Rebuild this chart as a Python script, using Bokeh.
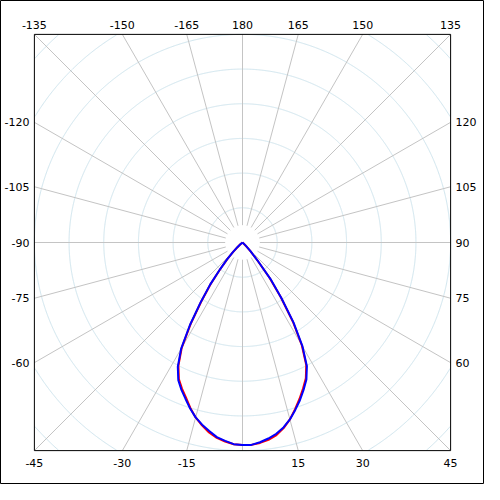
import numpy as np
from bokeh.plotting import figure
from bokeh.models import Range1d
from bokeh.core.properties import value
from bokeh.embed import file_html
from bokeh.resources import INLINE

# ---- data (luminous intensity, arbitrary cd units) ----
angles = [-55, -52.5, -50, -47.5, -45, -42.5, -40, -37.5, -35, -32.5, -30, -27.5,
          -25, -22.5, -20, -17.5, -15, -12.5, -10, -7.5, -5, -2.5, 0,
          2.5, 5, 7.5, 10, 12.5, 15, 17.5, 20, 22.5, 25, 27.5, 30, 32.5, 35,
          37.5, 40, 42.5, 45, 47.5, 50, 52.5, 55]
blue_values = [0, 1, 4, 10, 20, 33, 50, 77, 105, 141, 177, 202,
               219, 230, 240, 251, 261, 269, 276, 283, 287, 291, 292,
               292, 289, 285, 280, 273, 264, 253, 242, 230, 218, 201, 173, 137, 98,
               66, 33, 17, 7, 3, 0, 0, 0]
red_values = [0, 1, 4, 9, 19, 32, 49, 75, 103, 139, 175, 200,
              217, 228, 238, 250, 261, 270, 278, 284, 288, 291, 292,
              292, 290, 287, 282, 274, 264, 252, 240, 228, 216, 199, 171, 135, 96,
              64, 32, 16, 6, 2, 0, 0, 0]
tick_angles = list(range(-165, 181, 15))
tick_labels = [str(a) for a in tick_angles]
ring_step = 50
scale_max = 300

# ---- geometry (reference pixel space) ----
W = 500.0
C = 250.0
HALF = 215.0
LO, HI = C - HALF, C + HALF


def to_xy(theta_deg, inten):
    t = np.radians(np.asarray(theta_deg, dtype=float))
    r = np.asarray(inten, dtype=float) * HALF / scale_max
    return C + r * np.sin(t), C + r * np.cos(t)


p = figure(width=484, height=484, x_range=Range1d(0, W), y_range=Range1d(W, 0),
           output_backend="svg", toolbar_location=None, min_border=0,
           x_axis_type=None, y_axis_type=None)
p.grid.visible = False
p.outline_line_color = "black"
p.outline_line_width = 1
p.background_fill_color = "white"
p.border_fill_color = "white"

# rings, clipped to the square frame
ring_xs, ring_ys = [], []
tt = np.linspace(0, 2 * np.pi, 1441)
for k in range(1, 9):
    rk = k * ring_step * HALF / scale_max
    xs = C + rk * np.sin(tt)
    ys = C + rk * np.cos(tt)
    mask = (xs < LO) | (xs > HI) | (ys < LO) | (ys > HI)
    xs[mask] = np.nan
    ys[mask] = np.nan
    ring_xs.append(xs.tolist())
    ring_ys.append(ys.tolist())
p.multi_line(ring_xs, ring_ys, line_color="#cfe5ee", line_width=1)

# spokes
sx, sy = [], []
r0 = HALF / 12
for a in tick_angles + [0]:
    t = np.radians(a)
    s, c = np.sin(t), np.cos(t)
    r1 = HALF / max(abs(s), abs(c))
    sx.append([C + r0 * s, C + r1 * s])
    sy.append([C + r0 * c, C + r1 * c])
p.multi_line(sx, sy, line_color="#c4c4c4", line_width=1)

# inner frame
p.rect(x=C, y=C, width=2 * HALF, height=2 * HALF, fill_color=None,
       line_color="black", line_width=1)

# curves
rx, ry = to_xy(angles, red_values)
bx, by = to_xy(angles, blue_values)
p.line(rx, ry, line_color="red", line_width=2)
p.line(bx, by, line_color="blue", line_width=2)

# tick labels
lx, ly, lt, la = [], [], [], []
for a, lab in zip(tick_angles, tick_labels):
    if a == 0:
        continue
    t = np.radians(a)
    s, c = np.sin(t), np.cos(t)
    r1 = HALF / max(abs(s), abs(c))
    ex, ey = C + r1 * s, C + r1 * c
    if abs(c) >= abs(s) - 1e-9:
        if c < 0:
            lx.append(ex); ly.append(LO - 10); la.append("center")
        else:
            lx.append(ex); ly.append(HI + 13); la.append("center")
    elif s < 0:
        lx.append(LO - 5); ly.append(ey); la.append("right")
    else:
        lx.append(HI + 5); ly.append(ey); la.append("left")
    lt.append(lab)

for align in ("center", "left", "right"):
    idx = [i for i, v in enumerate(la) if v == align]
    p.text([lx[i] for i in idx], [ly[i] for i in idx], [lt[i] for i in idx],
           text_align=align, text_baseline="middle",
           text_font=value("DejaVu Sans"), text_font_size="11px",
           text_color="black")

open("out.html", "w").write(file_html(p, INLINE))
